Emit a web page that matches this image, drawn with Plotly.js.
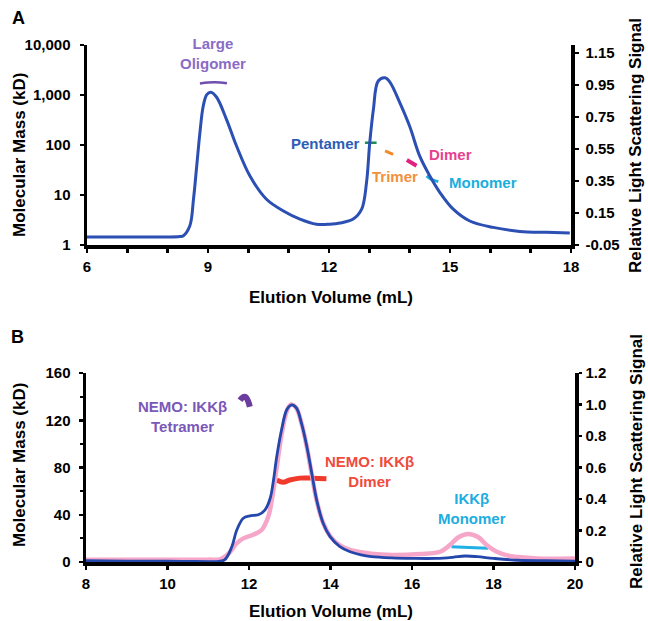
<!DOCTYPE html>
<html>
<head>
<meta charset="utf-8">
<script src="https://cdn.plot.ly/plotly-3.0.1.min.js"></script>
<style>html,body{margin:0;padding:0;background:#fff;}#chart{width:648px;height:621px;}</style>
</head>
<body>
<div id="chart"></div>
<script>
// ---------- Panel A data ----------
const aVolume = [6, 7, 8, 8.3, 8.39, 8.55, 8.64, 8.72, 8.80, 8.88, 8.97, 9.07, 9.21, 9.46, 9.71, 10.04, 10.45, 10.87, 11.28, 11.69, 12.02, 12.27, 12.6, 12.81, 12.93, 13.01, 13.10, 13.22, 13.39, 13.51, 13.76, 14.0, 14.25, 14.5, 14.75, 15.08, 15.49, 16.07, 16.73, 17.39, 17.97];
const aSignal = [0.0, 0.0, 0.0, 0.003, 0.008, 0.07, 0.236, 0.443, 0.652, 0.816, 0.89, 0.905, 0.875, 0.734, 0.567, 0.381, 0.236, 0.163, 0.112, 0.08, 0.08, 0.087, 0.112, 0.174, 0.34, 0.589, 0.796, 0.975, 0.995, 0.968, 0.837, 0.692, 0.505, 0.381, 0.278, 0.174, 0.10, 0.06, 0.035, 0.029, 0.025];
const aOligomerX = [8.80, 9.0, 9.15, 9.30, 9.47];
const aOligomerM = [1700, 1770, 1790, 1780, 1720];
const aPentamerX = [12.89, 13.18];
const aPentamerM = [111, 111];
const aTrimerX = [13.39, 13.59];
const aTrimerM = [76, 65];
const aDimerX = [13.93, 14.17];
const aDimerM = [50, 38.5];
const aMonomerX = [14.42, 14.55, 14.71];
const aMonomerM = [24, 20.4, 18.5];
const aMassTicks = [1, 10, 100, 1000, 10000];
const aMassLabels = ["1", "10", "100", "1,000", "10,000"];
const aSignalTicks = [-0.05, 0.15, 0.35, 0.55, 0.75, 0.95, 1.15];
const aSignalLabels = ["-0.05", "0.15", "0.35", "0.55", "0.75", "0.95", "1.15"];
const aVolumeTicks = [6, 9, 12, 15, 18];

// ---------- Panel B data ----------
const bBlueX = [8, 9, 10, 10.5, 11, 11.2, 11.4, 11.58, 11.7, 11.86, 12.02, 12.23, 12.39, 12.52, 12.6, 12.68, 12.8, 12.93, 13.05, 13.17, 13.29, 13.42, 13.54, 13.66, 13.82, 13.99, 14.23, 14.48, 14.75, 15.0, 15.5, 16.0, 16.6, 17.0, 17.3, 17.6, 18.0, 18.6, 19.3, 20];
const bBlueY = [0.008, 0.006, 0.005, 0.004, 0.003, 0.003, 0.013, 0.098, 0.203, 0.278, 0.293, 0.30, 0.33, 0.405, 0.518, 0.668, 0.84, 0.968, 0.998, 0.975, 0.878, 0.732, 0.563, 0.394, 0.246, 0.161, 0.098, 0.065, 0.045, 0.034, 0.026, 0.023, 0.023, 0.03, 0.038, 0.034, 0.023, 0.011, 0.008, 0.006];
const bPinkX = [8, 9, 10, 11, 11.3, 11.51, 11.7, 11.86, 12.1, 12.31, 12.47, 12.56, 12.68, 12.8, 12.93, 13.03, 13.15, 13.29, 13.42, 13.54, 13.66, 13.82, 13.99, 14.23, 14.5, 15, 15.5, 16.2, 16.69, 16.93, 17.14, 17.38, 17.63, 17.83, 18.08, 18.4, 19.06, 20];
const bPinkY = [0.015, 0.015, 0.015, 0.015, 0.019, 0.057, 0.119, 0.15, 0.173, 0.203, 0.285, 0.394, 0.6, 0.81, 0.96, 1.0, 0.983, 0.878, 0.728, 0.555, 0.39, 0.248, 0.165, 0.105, 0.075, 0.053, 0.045, 0.051, 0.065, 0.108, 0.157, 0.178, 0.157, 0.108, 0.065, 0.038, 0.023, 0.023];
const bDimerX = [12.68, 12.84, 13.0, 13.25, 13.57, 13.9];
const bDimerM = [69.4, 67.5, 69.4, 71, 71, 70.5];
const bTetramerX = [11.78, 11.85, 11.92, 11.98, 12.02];
const bTetramerM = [137, 139.5, 139.5, 136, 131.5];
const bMonomerX = [16.97, 17.4, 17.87];
const bMonomerM = [13, 12.3, 11.6];
const bMassTicks = [0, 40, 80, 120, 160];
const bSignalTicks = [0, 0.2, 0.4, 0.6, 0.8, 1.0, 1.2];
const bSignalLabels = ["0", "0.2", "0.4", "0.6", "0.8", "1.0", "1.2"];
const bVolumeTicks = [8, 10, 12, 14, 16, 18, 20];

// ---------- helpers ----------
const W = 648, H = 621;
const px = x => x / W;
const py = y => 1 - y / H;
const FONT = 'Liberation Sans, Arial, Helvetica, sans-serif';
const tickFont = {family: FONT, size: 15, color: '#000', weight: 'bold'};

const traces = [
  {x: aVolume, y: aSignal, xaxis: 'x', yaxis: 'y2', mode: 'lines', line: {color: '#2b4fb3', width: 3, shape: 'spline'}},
  {x: aOligomerX, y: aOligomerM, xaxis: 'x', yaxis: 'y', mode: 'lines', line: {color: '#6f4fae', width: 2.5, shape: 'spline'}},
  {x: aPentamerX, y: aPentamerM, xaxis: 'x', yaxis: 'y', mode: 'lines', line: {color: '#1f8a5a', width: 2.5}},
  {x: aTrimerX, y: aTrimerM, xaxis: 'x', yaxis: 'y', mode: 'lines', line: {color: '#f28a2e', width: 3}},
  {x: aDimerX, y: aDimerM, xaxis: 'x', yaxis: 'y', mode: 'lines', line: {color: '#e0217f', width: 4}},
  {x: aMonomerX, y: aMonomerM, xaxis: 'x', yaxis: 'y', mode: 'lines', line: {color: '#19aee0', width: 3, shape: 'spline'}},

  {x: bPinkX, y: bPinkY, xaxis: 'x2', yaxis: 'y4', mode: 'lines', line: {color: '#f5a6c9', width: 4.5, shape: 'spline'}},
  {x: bBlueX, y: bBlueY, xaxis: 'x2', yaxis: 'y4', mode: 'lines', line: {color: '#2347ab', width: 2.8, shape: 'spline'}},
  {x: bDimerX, y: bDimerM, xaxis: 'x2', yaxis: 'y3', mode: 'lines', line: {color: '#f03a2c', width: 5, shape: 'spline'}},
  {x: bTetramerX, y: bTetramerM, xaxis: 'x2', yaxis: 'y3', mode: 'lines', line: {color: '#6a3d9e', width: 6, shape: 'spline'}},
  {x: bMonomerX, y: bMonomerM, xaxis: 'x2', yaxis: 'y3', mode: 'lines', line: {color: '#1fb0e6', width: 3, shape: 'spline'}}
];

const axisBase = {showgrid: false, zeroline: false, showline: true, linecolor: '#000', linewidth: 3.5,
  ticks: 'outside', tickcolor: '#000', tickwidth: 2.5, ticklen: 4, tickfont: tickFont, automargin: false, fixedrange: true};

const layout = {
  width: W, height: H, margin: {l: 0, r: 0, t: 0, b: 0}, showlegend: false,
  paper_bgcolor: '#fff', plot_bgcolor: 'rgba(0,0,0,0)',
  xaxis: Object.assign({}, axisBase, {domain: [px(87), px(571)], range: [6, 18], anchor: 'y',
    tickvals: aVolumeTicks, ticklabelstandoff: 1, minor: {dtick: 1, ticks: 'outside', ticklen: 4, tickwidth: 2.5, tickcolor: '#000'}}),
  yaxis: Object.assign({}, axisBase, {domain: [py(245), py(45)], type: 'log', range: [0, 4], anchor: 'x',
    tickvals: aMassTicks, ticktext: aMassLabels, ticklabelstandoff: 6}),
  yaxis2: Object.assign({}, axisBase, {domain: [py(245), py(45)], range: [-0.05, 1.20], overlaying: 'y', side: 'right', anchor: 'x',
    tickvals: aSignalTicks, ticktext: aSignalLabels, ticklabelstandoff: 4}),
  xaxis2: Object.assign({}, axisBase, {domain: [px(86), px(575)], range: [8, 20], anchor: 'y3', linewidth: 4,
    tickvals: bVolumeTicks, ticklabelstandoff: 1}),
  yaxis3: Object.assign({}, axisBase, {domain: [py(562), py(373)], range: [0, 160], anchor: 'x2',
    tickvals: bMassTicks, ticklabelstandoff: 5, minor: {dtick: 20, ticks: 'outside', ticklen: 3, tickwidth: 2, tickcolor: '#000'}}),
  yaxis4: Object.assign({}, axisBase, {domain: [py(562), py(373)], range: [0, 1.2], overlaying: 'y3', side: 'right', anchor: 'x2',
    tickvals: bSignalTicks, ticktext: bSignalLabels, ticklen: 3, ticklabelstandoff: 1}),
  annotations: []
};

function note(text, x, y, color, opts) {
  layout.annotations.push(Object.assign({text: text, x: px(x), y: py(y), xref: 'paper', yref: 'paper',
    showarrow: false, xanchor: 'center', yanchor: 'middle',
    font: {family: FONT, size: 15, color: color, weight: 'bold'}}, opts || {}));
}
// panel letters
note('A', 18, 18, '#000', {font: {family: FONT, size: 18, color: '#000', weight: 'bold'}});
note('B', 17, 337, '#000', {font: {family: FONT, size: 18, color: '#000', weight: 'bold'}});
// axis titles
const tf = {family: FONT, size: 17, color: '#000', weight: 'bold'};
note('Molecular Mass (kD)', 19, 155, '#000', {textangle: -90, font: tf});
note('Relative Light Scattering Signal', 636, 146, '#000', {textangle: -90, font: tf});
note('Elution Volume (mL)', 331, 297, '#000', {font: tf});
note('Molecular Mass (kD)', 19, 465, '#000', {textangle: -90, font: tf});
note('Relative Light Scattering Signal', 636, 462, '#000', {textangle: -90, font: tf});
note('Elution Volume (mL)', 331, 611, '#000', {font: tf});
// panel A labels
note('Large<br>Oligomer', 213, 54, '#8a6cc6');
note('Pentamer', 362, 143, '#2d5db4', {xanchor: 'right'});
note('Trimer', 395, 177, '#f3903a');
note('Dimer', 427, 154, '#e6428f', {xanchor: 'left'});
note('Monomer', 447, 183, '#1aaedc', {xanchor: 'left'});
// panel B labels
note('NEMO: IKKβ<br>Tetramer', 182, 416, '#7a58b8');
note('NEMO: IKKβ<br>Dimer', 369, 471, '#f04b3c');
note('IKKβ<br>Monomer', 472, 508, '#20ade0');

Plotly.newPlot('chart', traces, layout, {displayModeBar: false, staticPlot: true});
</script>
</body>
</html>
